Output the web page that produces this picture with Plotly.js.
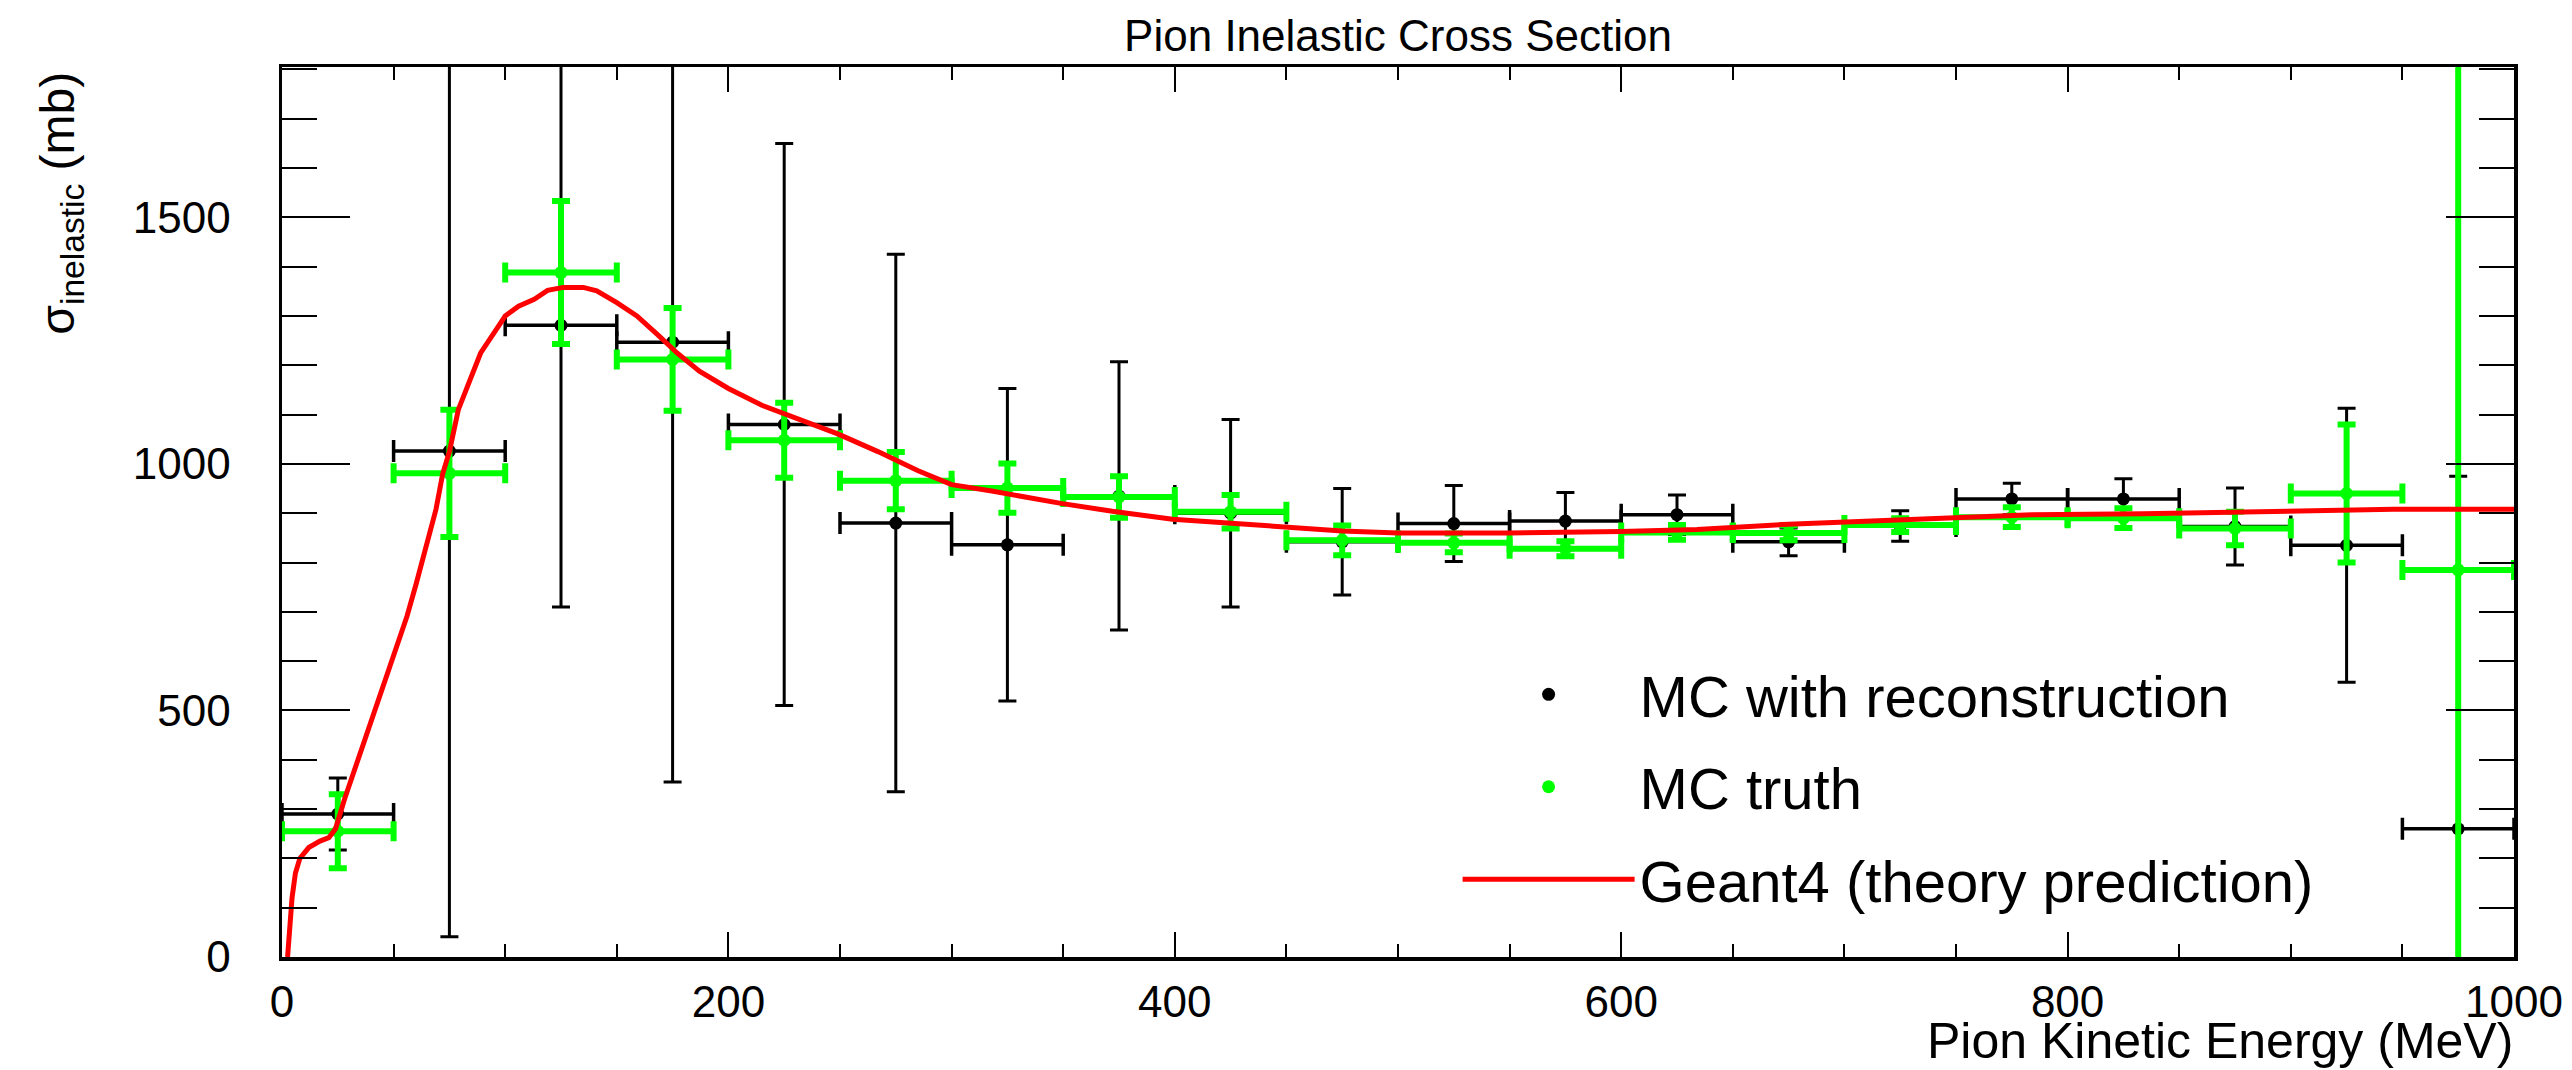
<!DOCTYPE html>
<html>
<head>
<meta charset="utf-8">
<script src="https://cdn.plot.ly/plotly-3.0.1.min.js"></script>
<style>
html,body{margin:0;padding:0;background:#ffffff;}
#chart{width:2572px;height:1070px;}
</style>
</head>
<body>
<div id="chart"></div>
<script>
// ---- data ----
const binCenters   = [25, 75, 125, 175, 225, 275, 325, 375, 425, 475, 525, 575, 625, 675, 725, 775, 825, 875, 925, 975];
const binHalfWidth = [25, 25, 25, 25, 25, 25, 25, 25, 25, 25, 25, 25, 25, 25, 25, 25, 25, 25, 25, 25];

const recoValues = [290, 1026, 1281, 1247, 1080, 880, 836, 935, 900, 842, 879, 884, 897, 842, 874, 929, 929, 873, 835, 260];
const recoErrors = [73, 985, 571, 892, 570, 545, 317, 272, 190, 108, 77, 58, 40, 28, 31, 32, 41, 78, 278, 715];

const truthValues = [255, 981, 1388, 1212, 1048, 966, 951, 933, 903, 845, 840, 828, 861, 860, 876, 892, 890, 869, 940, 785];
const truthErrors = [75, 129, 145, 104, 76, 58, 50, 42, 34, 30, 19, 15, 15, 15, 14, 20, 20, 34, 140, 1100];

const geantEnergy = [2.5, 3.5, 4.5, 6, 8, 12, 17, 21, 24, 28, 33, 39, 45, 51, 56, 60, 64, 69, 72, 75, 79, 84, 89, 95, 100, 106, 113, 119, 126, 135, 141, 150, 159, 169, 177, 187, 200, 215, 233, 249, 267, 285, 300, 318, 349, 372, 399, 421, 449, 475, 500, 550, 600, 634, 672, 722, 754, 784, 834, 886, 946, 1000];
const geantXsec   = [0, 60, 120, 170, 200, 222, 235, 242, 260, 320, 386, 466, 546, 627, 691, 755, 827, 908, 980, 1025, 1110, 1170, 1225, 1266, 1300, 1320, 1334, 1352, 1358, 1358, 1351, 1327, 1300, 1259, 1225, 1188, 1153, 1119, 1089, 1061, 1025, 986, 958, 945, 920, 904, 888, 881, 870, 864, 860, 860, 863, 867, 877, 887, 892, 897, 899, 904, 908, 908];

const xTickVals = [0, 200, 400, 600, 800, 1000];
const yTickVals = [0, 500, 1000, 1500];

const seriesNames = ['MC with reconstruction', 'MC truth', 'Geant4 (theory prediction)'];
const chartTitle = 'Pion Inelastic Cross Section';
const xTitle = 'Pion Kinetic Energy (MeV)';
const yTitle = '\u03c3<sub>inelastic</sub> (mb)';

// ---- styles ----
const FONT = 'Liberation Sans, Arial, Helvetica, sans-serif';
const GREEN = '#00ff00';

const traces = [
  {
    type: 'scatter', mode: 'markers', name: seriesNames[0], legendgroup: 'a',
    x: binCenters, y: recoValues,
    marker: {color: '#000000', size: 13},
    error_y: {type: 'data', array: recoErrors, visible: true, color: '#000000', thickness: 3, width: 9},
    error_x: {type: 'data', array: binHalfWidth, visible: true, color: '#000000', thickness: 3.5, width: 11},
    cliponaxis: true
  },
  {
    type: 'scatter', mode: 'markers', name: seriesNames[1], legendgroup: 'b',
    x: binCenters, y: truthValues,
    marker: {color: GREEN, size: 13},
    error_y: {type: 'data', array: truthErrors, visible: true, color: GREEN, thickness: 6, width: 9},
    error_x: {type: 'data', array: binHalfWidth, visible: true, color: GREEN, thickness: 6, width: 10},
    cliponaxis: true
  },
  {
    type: 'scatter', mode: 'lines', name: seriesNames[2], legendgroup: 'c',
    x: geantEnergy, y: geantXsec,
    line: {color: '#ff0000', width: 5},
    cliponaxis: true
  }
];

const axisCommon = {
  showline: true, linecolor: '#000000', linewidth: 3.5, mirror: 'ticks',
  ticks: 'inside', tickcolor: '#000000', tickwidth: 2,
  showgrid: false, zeroline: false,
  tickfont: {family: FONT, size: 44, color: '#000000'}
};

const layout = {
  width: 2572, height: 1070,
  paper_bgcolor: '#ffffff', plot_bgcolor: '#ffffff',
  margin: {l: 282, r: 58, t: 67, b: 113, pad: 0},
  font: {family: FONT, color: '#000000'},
  showlegend: true,
  title: {
    text: chartTitle, font: {family: FONT, size: 44, color: '#000000'},
    xref: 'paper', x: 0.5, xanchor: 'center',
    yref: 'container', y: 0.9814, yanchor: 'top'
  },
  xaxis: Object.assign({}, axisCommon, {
    range: [0, 1000], tickmode: 'array', tickvals: xTickVals,
    ticklen: 25, ticklabelstandoff: 4,
    minor: {dtick: 50, ticks: 'inside', ticklen: 13, tickwidth: 2, tickcolor: '#000000', showgrid: false}
  }),
  yaxis: Object.assign({}, axisCommon, {
    range: [0, 1805], tickmode: 'array', tickvals: yTickVals,
    ticklen: 68, ticklabelstandoff: 39,
    minor: {dtick: 100, ticks: 'inside', ticklen: 35, tickwidth: 2, tickcolor: '#000000', showgrid: false}
  }),
  legend: {
    x: 0.5267, xanchor: 'left', y: 0.3448, yanchor: 'top',
    xref: 'paper', yref: 'paper',
    bgcolor: 'rgba(0,0,0,0)', borderwidth: 0,
    font: {family: FONT, size: 58, color: '#000000'},
    itemwidth: 172, tracegroupgap: 14, traceorder: 'grouped'
  },
  annotations: [
    {
      text: xTitle, showarrow: false, borderpad: 0,
      xref: 'paper', yref: 'paper', x: 1, xanchor: 'right', y: -0.0618, yanchor: 'top',
      font: {family: FONT, size: 50, color: '#000000'}
    },
    {
      text: yTitle, showarrow: false, textangle: -90,
      xref: 'paper', yref: 'paper', x: -0.0994, xanchor: 'center', y: 0.9966, yanchor: 'top',
      font: {family: FONT, size: 48, color: '#000000'}
    }
  ]
};

Plotly.newPlot('chart', traces, layout, {displayModeBar: false, staticPlot: true});
</script>
</body>
</html>
